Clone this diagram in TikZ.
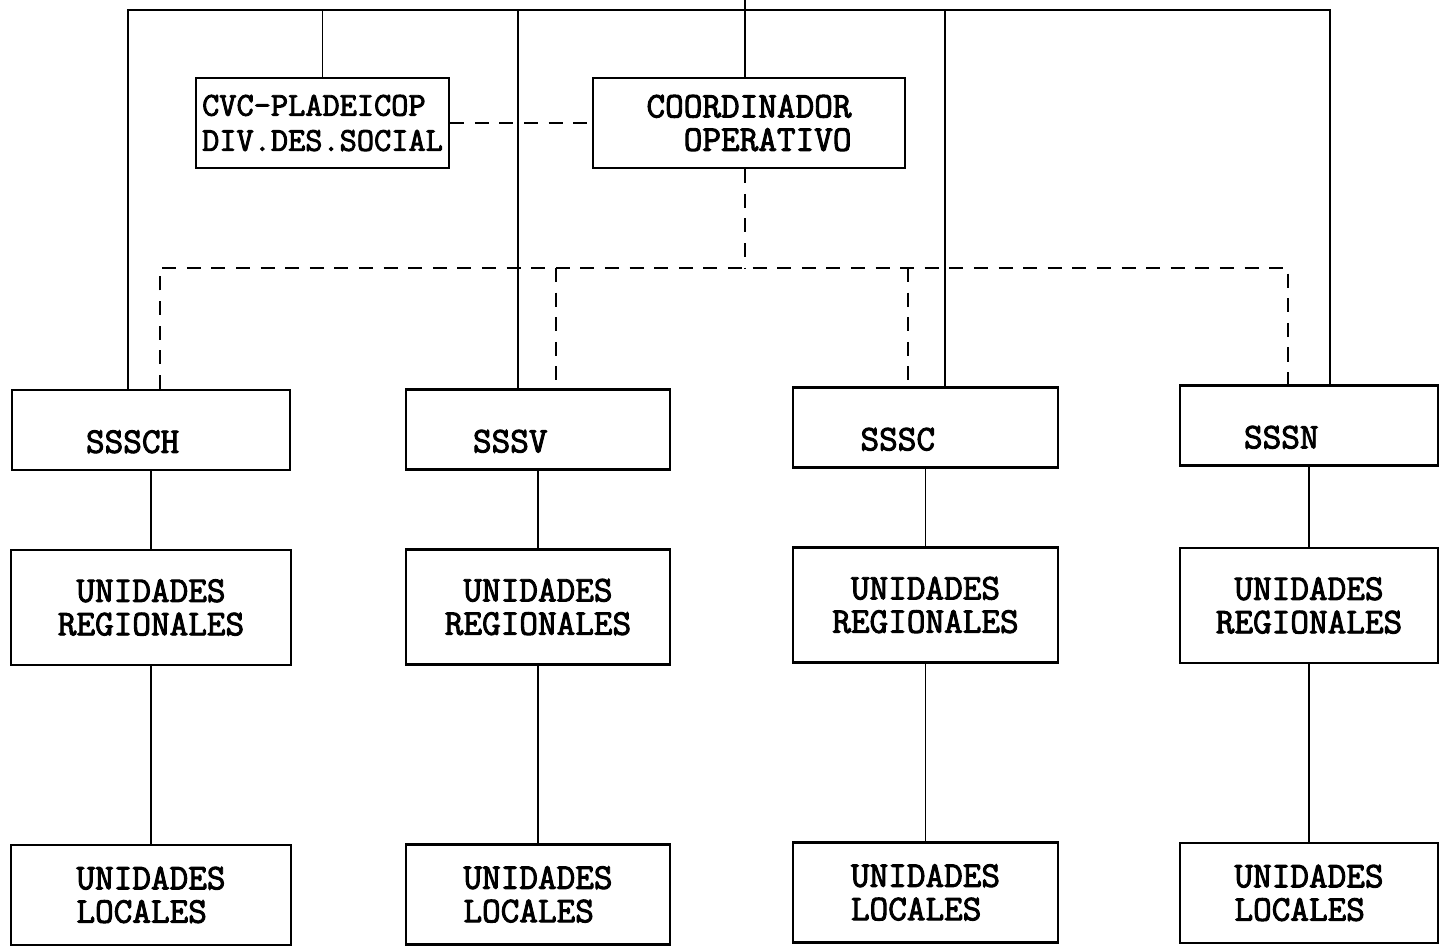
\documentclass[tikz,border=0pt]{standalone}
\usepackage{fontspec}
\newfontfamily\typewriter[FakeBold=2.6]{Latin Modern Mono}
\usepackage{tikz}
\tikzstyle{office} = [rectangle, draw=black, line width=1.4pt, font=\typewriter\fontsize{20.6}{19}\selectfont]
\tikzstyle{sss} = [office, text height=26pt, text depth=0pt, text width=2.6cm, align=left, minimum height=1.6cm]
\tikzstyle{regional} = [office, align=center, minimum height=2.3cm]
\tikzstyle{local} = [office, align=left, minimum height=2cm]
\tikzstyle{line} = [line width=1pt]
\tikzstyle{dline} = [line width=1pt, dash pattern=on 8pt off 6pt]

\begin{document}
\begin{tikzpicture}[x=0.02cm, y=-0.02cm]
\useasboundingbox (0,0) rectangle (1439,946);

% Upper boxes
\node (cvc) [office, align=left, inner sep=2pt, minimum width=5.06cm, minimum height=1.8cm, font=\typewriter\fontsize{19}{20}\selectfont] at (322.5,123) {CVC-PLADEICOP\\DIV.DES.SOCIAL};
\node (coord) [office, align=right, minimum width=6.24cm, minimum height=1.8cm] at (749,123) {COORDINADOR\\OPERATIVO};

% Subsecretarias
\node (sssch) [sss, minimum width=5.56cm] at (151,430) {SSSCH};
\node (sssv) [sss, minimum width=5.28cm] at (538,429.5) {SSSV};
\node (sssc) [sss, minimum width=5.3cm] at (925.5,427.5) {SSSC};
\node (sssn) [sss, minimum width=5.16cm] at (1309,425.5) {SSSN};

% Unidades regionales
\node (urch) [regional, minimum width=5.6cm, below of=sssch, node distance=3.55cm] {UNIDADES\\REGIONALES};
\node (urv) [regional, minimum width=5.28cm, below of=sssv, node distance=3.55cm] {UNIDADES\\REGIONALES};
\node (urc) [regional, minimum width=5.3cm, below of=sssc, node distance=3.55cm] {UNIDADES\\REGIONALES};
\node (urn) [regional, minimum width=5.16cm, below of=sssn, node distance=3.6cm] {UNIDADES\\REGIONALES};

% Unidades locales
\node (ulch) [local, minimum width=5.6cm, below of=urch, node distance=5.75cm] {UNIDADES\\LOCALES};
\node (ulv) [local, minimum width=5.28cm, below of=urv, node distance=5.75cm] {UNIDADES\\LOCALES};
\node (ulc) [local, minimum width=5.3cm, below of=urc, node distance=5.75cm] {UNIDADES\\LOCALES};
\node (uln) [local, minimum width=5.16cm, below of=urn, node distance=5.75cm] {UNIDADES\\LOCALES};

% Solid lines
\coordinate (topleft) at (128,10);
\coordinate (topright) at (1330,10);
\coordinate (topmid) at (745,0);
\coordinate (dropv) at (518,10);
\coordinate (dropc) at (945,10);
\draw [line] (sssch.north -| topleft) -- (topleft) -- (topright) -- (sssn.north -| topright);
\draw [line] (topmid) -- (coord.north -| topmid);
\draw [line] (cvc.north) -- (cvc.north |- topleft);
\draw [line] (dropv) -- (sssv.north -| dropv);
\draw [line] (dropc) -- (sssc.north -| dropc);
\draw [line] (sssch) -- (urch);
\draw [line] (sssv) -- (urv);
\draw [line] (sssc) -- (urc);
\draw [line] (sssn) -- (urn);
\draw [line] (urch) -- (ulch);
\draw [line] (urv) -- (ulv);
\draw [line] (urc) -- (ulc);
\draw [line] (urn) -- (uln);

% Dashed lines
\coordinate (dleft) at (160,268);
\coordinate (dright) at (1288,268);
\coordinate (dv) at (556,268);
\coordinate (dc) at (908,268);
\draw [dline] (cvc) -- (coord);
\draw [dline] (coord.south -| topmid) -- (topmid |- dleft);
\draw [dline] (sssch.north -| dleft) -- (dleft) -- (dright) -- (sssn.north -| dright);
\draw [dline] (dv) -- (sssv.north -| dv);
\draw [dline] (dc) -- (sssc.north -| dc);

\end{tikzpicture}
\end{document}
